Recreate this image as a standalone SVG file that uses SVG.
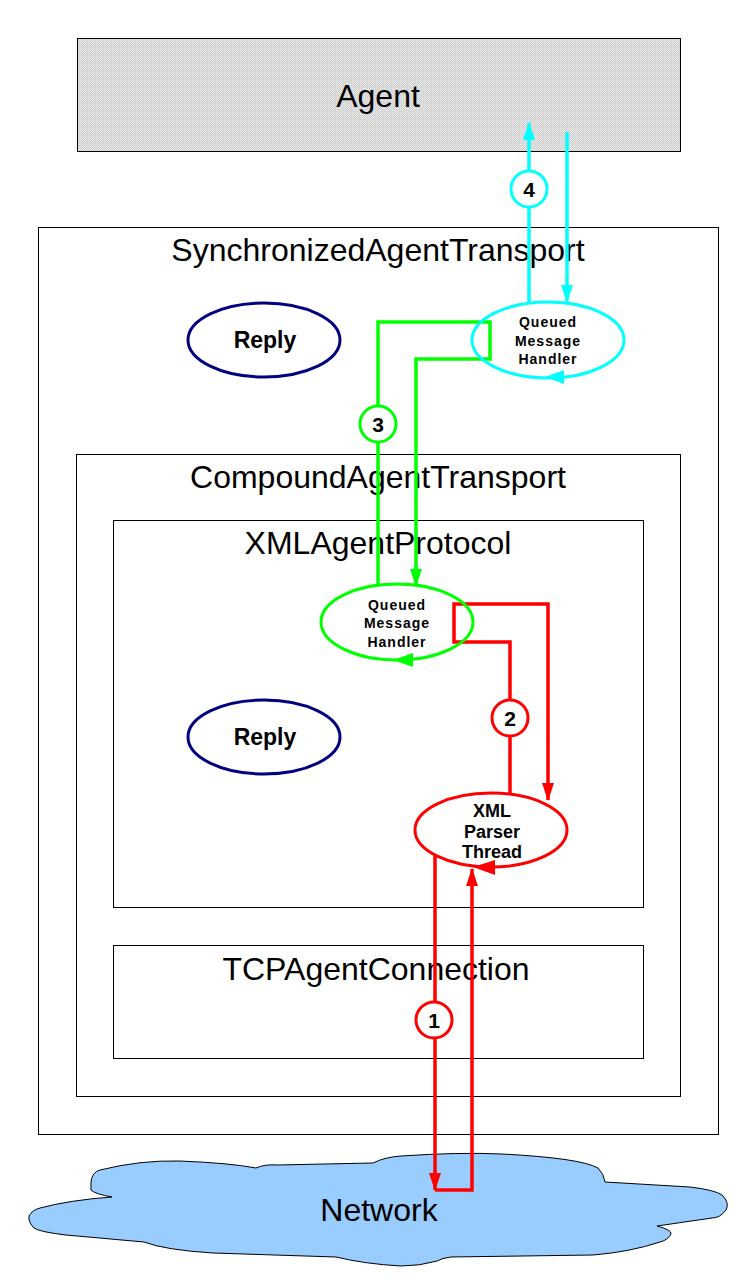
<svg xmlns="http://www.w3.org/2000/svg" width="756" height="1285" viewBox="0 0 756 1285">
  <style>
    .box { fill: #ffffff; stroke: #000000; stroke-width: 1; }
    .title { font-family: "Liberation Sans", Arial, sans-serif; font-size: 32px; fill: #000000; text-anchor: middle; }
    .reply { fill: none; stroke: #000080; stroke-width: 3; }
    .reply-text { font-family: "Liberation Sans", Arial, sans-serif; font-size: 23px; font-weight: bold; fill: #000000; text-anchor: middle; }
    .small { font-family: "Liberation Sans", Arial, sans-serif; font-size: 14px; font-weight: bold; letter-spacing: 1px; fill: #000000; text-anchor: middle; }
    .xml-text { font-family: "Liberation Sans", Arial, sans-serif; font-size: 18px; font-weight: bold; fill: #000000; text-anchor: middle; }
    .num { font-family: "Liberation Sans", Arial, sans-serif; font-size: 21px; font-weight: bold; fill: #000000; text-anchor: middle; }
    .cyan { stroke: #00ffff; }
    .green { stroke: #00ff00; }
    .red { stroke: #ff0000; }
    .flow { fill: none; stroke-width: 3.5; }
    .badge { fill: #ffffff; stroke-width: 3; }
  </style>
  <defs>
    <pattern id="gray-texture" width="2" height="2" patternUnits="userSpaceOnUse">
      <rect width="2" height="2" fill="#cfcfcf"/>
      <rect width="1" height="1" fill="#ececec"/>
      <rect x="1" y="1" width="1" height="1" fill="#e2e2e2"/>
    </pattern>
    <marker id="ah-cyan" viewBox="0 0 18 12" refX="17" refY="6" markerWidth="18" markerHeight="12" orient="auto" markerUnits="userSpaceOnUse">
      <path d="M0,0 L18,6 L0,12 Z" fill="#00ffff"/>
    </marker>
    <marker id="ah-green" viewBox="0 0 18 12" refX="17" refY="6" markerWidth="18" markerHeight="12" orient="auto" markerUnits="userSpaceOnUse">
      <path d="M0,0 L18,6 L0,12 Z" fill="#00ff00"/>
    </marker>
    <marker id="ah-red" viewBox="0 0 18 12" refX="17" refY="6" markerWidth="18" markerHeight="12" orient="auto" markerUnits="userSpaceOnUse">
      <path d="M0,0 L18,6 L0,12 Z" fill="#ff0000"/>
    </marker>
  </defs>

  <rect width="756" height="1285" fill="#ffffff"/>

  <!-- Agent -->
  <g id="agent">
    <rect x="77.5" y="38.5" width="603" height="113" fill="url(#gray-texture)" stroke="#000000" stroke-width="1"/>
    <text class="title" x="378" y="107">Agent</text>
  </g>

  <!-- Nested transport layers -->
  <g id="synchronized-agent-transport">
    <rect class="box" x="38.5" y="227.5" width="680" height="907"/>
    <text class="title" x="378" y="261">SynchronizedAgentTransport</text>
  </g>
  <g id="compound-agent-transport">
    <rect class="box" x="76.5" y="454.5" width="604" height="642"/>
    <text class="title" x="378" y="488">CompoundAgentTransport</text>
  </g>
  <g id="xml-agent-protocol">
    <rect class="box" x="113.5" y="520.5" width="530" height="387"/>
    <text class="title" x="378" y="554">XMLAgentProtocol</text>
  </g>
  <g id="tcp-agent-connection">
    <rect class="box" x="113.5" y="945.5" width="530" height="113"/>
    <text class="title" x="376" y="980">TCPAgentConnection</text>
  </g>

  <!-- Network cloud -->
  <g id="network">
    <path d="M91,1182 Q92,1172 100,1170 Q140,1160 180,1161 Q230,1163 256,1168 Q265,1164 277,1165 L373,1163 Q385,1157 401,1156 Q460,1152 502,1154 Q580,1158 598,1168 Q604,1174 605,1182 L690,1187 Q715,1190 722,1195 Q730,1203 726,1210 Q720,1218 712,1218 L657,1226 Q672,1230 671,1234 Q668,1240 660,1242 Q630,1252 593,1255 L451,1257 Q442,1258 437,1261 Q420,1266 401,1266 Q365,1264 336,1257 L213,1253 Q165,1250 144,1242 L66,1235 Q40,1232 34,1228 Q28,1222 29,1216 Q32,1210 40,1208 Q70,1200 112,1197 Q95,1194 91,1190 Z" fill="#99ccff" stroke="#000000" stroke-width="1"/>
    <text class="title" x="379" y="1221">Network</text>
  </g>

  <!-- Connectors -->
  <g id="connectors">
    <!-- step 1: network to parser thread and back -->
    <path class="flow red" d="M435,856 L435,1190" marker-end="url(#ah-red)"/>
    <path class="flow red" d="M435,1190 L472,1190 L472,869" marker-end="url(#ah-red)"/>
    <!-- step 2: parser thread to protocol handler and back -->
    <path class="flow red" d="M510,795 L510,642 L454,642 L454,604 L548,604 L548,800" marker-end="url(#ah-red)"/>
    <!-- step 3: protocol handler to synchronized handler and back -->
    <path class="flow green" d="M378,586 L378,322 L490,322 L490,359 L416,359 L416,586" marker-end="url(#ah-green)"/>
    <!-- step 4: synchronized handler to agent and back -->
    <path class="flow cyan" d="M529,302 L529,123" marker-end="url(#ah-cyan)"/>
    <path class="flow cyan" d="M567,132 L567,302" marker-end="url(#ah-cyan)"/>

    <g id="badge-1">
      <circle class="badge red" cx="434" cy="1020" r="18"/>
      <text class="num" x="434" y="1028">1</text>
    </g>
    <g id="badge-2">
      <circle class="badge red" cx="510" cy="718" r="18"/>
      <text class="num" x="510" y="726">2</text>
    </g>
    <g id="badge-3">
      <circle class="badge green" cx="378" cy="424" r="18"/>
      <text class="num" x="378" y="432">3</text>
    </g>
    <g id="badge-4">
      <circle class="badge cyan" cx="529" cy="189" r="18"/>
      <text class="num" x="529" y="197">4</text>
    </g>
  </g>

  <!-- Handlers and threads -->
  <g id="reply-sync">
    <ellipse class="reply" cx="264" cy="340" rx="76" ry="37"/>
    <text class="reply-text" x="265" y="348">Reply</text>
  </g>
  <g id="reply-protocol">
    <ellipse class="reply" cx="264" cy="737" rx="76" ry="37"/>
    <text class="reply-text" x="265" y="745">Reply</text>
  </g>
  <g id="queued-handler-sync">
    <ellipse cx="548" cy="340" rx="76" ry="38" fill="none" stroke="#00ffff" stroke-width="3"/>
    <polygon points="545,377 564,370 564,384" fill="#00ffff"/>
    <text class="small" x="548" y="327">Queued</text>
    <text class="small" x="548" y="346">Message</text>
    <text class="small" x="548" y="364">Handler</text>
  </g>
  <g id="queued-handler-protocol">
    <ellipse cx="397" cy="622" rx="76" ry="38" fill="none" stroke="#00ff00" stroke-width="3"/>
    <polygon points="393,660 413,653 413,667" fill="#00ff00"/>
    <text class="small" x="397" y="610">Queued</text>
    <text class="small" x="397" y="628">Message</text>
    <text class="small" x="397" y="647">Handler</text>
  </g>
  <g id="xml-parser-thread">
    <ellipse cx="491" cy="830" rx="76" ry="37" fill="none" stroke="#ff0000" stroke-width="3"/>
    <polygon points="473,867 495,860 495,875" fill="#ff0000"/>
    <text class="xml-text" x="492" y="817">XML</text>
    <text class="xml-text" x="492" y="838">Parser</text>
    <text class="xml-text" x="492" y="858">Thread</text>
  </g>
</svg>
